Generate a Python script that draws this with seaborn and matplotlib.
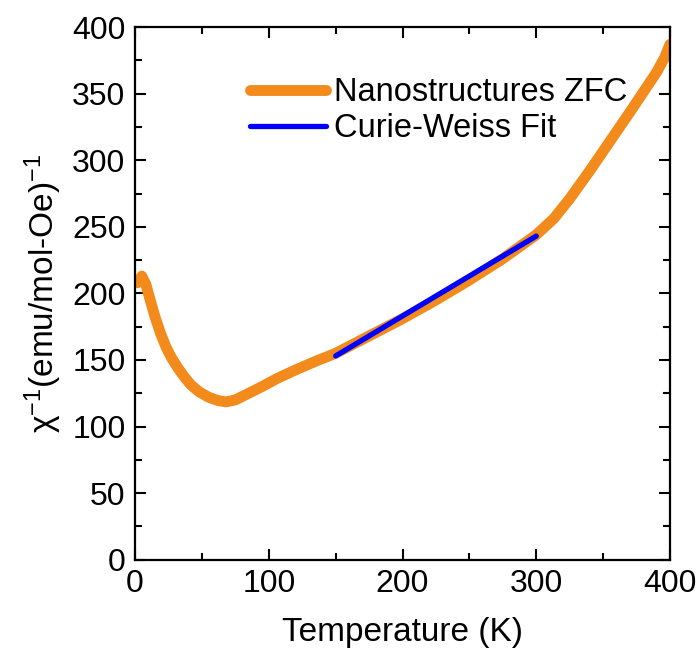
import numpy as np
import pandas as pd
import matplotlib
matplotlib.use("Agg")
import matplotlib.pyplot as plt
import seaborn as sns
from matplotlib.ticker import MultipleLocator

sns.set_theme(style="ticks")
plt.rcParams['font.family'] = ['Liberation Sans', 'DejaVu Sans']
plt.rcParams['mathtext.fontset'] = 'custom'
plt.rcParams['mathtext.rm'] = 'Liberation Sans'
plt.rcParams['mathtext.it'] = 'Liberation Sans'
plt.rcParams['text.color'] = 'black'
plt.rcParams['axes.labelcolor'] = 'black'

# ZFC data
temp_zfc = [2, 5, 8, 11, 15, 19, 23, 27, 32, 37, 42, 48, 55, 62, 68, 75, 84, 95,
            106, 120, 135, 150, 175, 200, 225, 250, 275, 300, 313, 325, 340, 355,
            370, 380, 390, 396, 400]
chi_inv_zfc = [208, 213, 207, 196, 182, 170, 160, 152, 144, 137, 131, 126, 122, 119.5,
               118.5, 120, 124.5, 130, 136, 142.5, 149, 155, 168, 181, 195, 210, 226, 244,
               256, 271, 292, 314, 336, 351, 366, 377, 387]

# Curie-Weiss fit
temp_fit = [150, 300]
chi_inv_fit = [153, 243]

df_zfc = pd.DataFrame({"T": temp_zfc, "chi": chi_inv_zfc})
df_fit = pd.DataFrame({"T": temp_fit, "chi": chi_inv_fit})

fig = plt.figure(figsize=(7, 6.6), dpi=100)
ax = fig.add_axes([0.193, 0.152, 0.764, 0.807])

sns.lineplot(data=df_zfc, x="T", y="chi", ax=ax, color="#F28A1C", linewidth=7.8,
             label="Nanostructures ZFC", solid_capstyle="round", sort=False)
sns.lineplot(data=df_fit, x="T", y="chi", ax=ax, color="#0000FF", linewidth=3.8,
             label="Curie-Weiss Fit", solid_capstyle="round", sort=False)

ax.set_xlim(0, 400)
ax.set_ylim(0, 400)
ax.xaxis.set_major_locator(MultipleLocator(100))
ax.xaxis.set_minor_locator(MultipleLocator(50))
ax.yaxis.set_major_locator(MultipleLocator(50))
ax.yaxis.set_minor_locator(MultipleLocator(25))
ax.tick_params(which="both", direction="in", top=True, right=True, width=1.5,
               labelsize=23, colors="black")
ax.tick_params(which="major", length=8, pad=7)
ax.tick_params(which="minor", length=5)
for sp in ax.spines.values():
    sp.set_linewidth(1.6)
    sp.set_color("black")

ax.set_xlabel("Temperature (K)", fontsize=24, labelpad=13)
ax.set_ylabel("χ$^{\\mathrm{-1}}$(emu/mol-Oe)$^{\\mathrm{-1}}$", fontsize=24, labelpad=6)

leg = ax.legend(loc="upper left", bbox_to_anchor=(0.19, 0.93), frameon=False,
                fontsize=23.5, handlelength=2.35, handletextpad=0.22, labelspacing=0.15,
                borderaxespad=0.0)
for t in leg.get_texts():
    t.set_color("black")

fig.savefig("out.png", dpi=100)
